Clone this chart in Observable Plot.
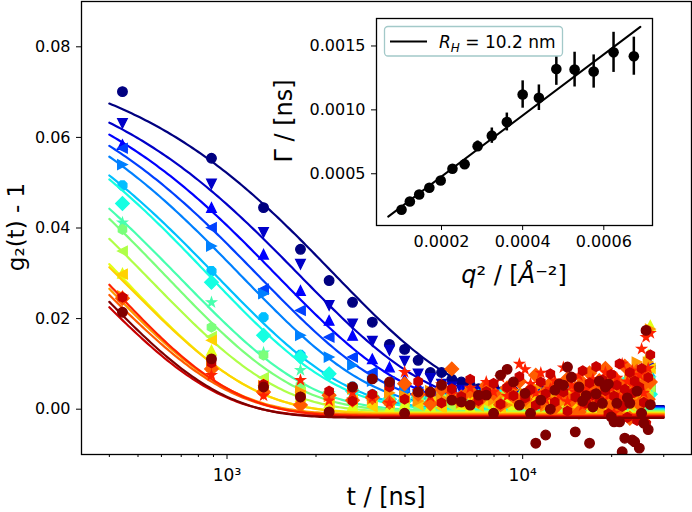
<!DOCTYPE html>
<html><head><meta charset="utf-8">
<script src="https://cdn.jsdelivr.net/npm/d3@7"></script>
<script src="https://cdn.jsdelivr.net/npm/@observablehq/plot@0.6"></script>
<style>
body{margin:0;background:#fff;}
#wrap{position:relative;width:692px;height:512px;}
#wrap svg{position:absolute;left:0;top:0;}
</style></head><body><div id="wrap"></div>
<script>
// ---------- DATA ----------
const lagStep = 443;               // ns between successive lag times
const lagCount = 61;
// g2(t)-1 per q, in units of 1e-4
const s0 = [701,554,445,353,284,236,192,143,132,108,81,81,66,60,53,45,42,49,38,35,40,33,30,36,24,41,28,22,33,47,19,27,38,25,31,16,44,29,21,35,26,52,18,30,39,12,45,27,33,8,56,24,37,15,49,22,60,10,43,31,93];
const s1 = [631,497,390,320,229,188,150,130,106,78,68,55,49,42,36,40,31,28,35,26,30,22,27,33,19,38,25,30,17,41,28,23,35,14,32,26,45,20,29,37,18,40,25,12,48,31,22,55,9,36,27,61,15,42,30,4,51,24,70,38,85];
const s2 = [584,445,342,262,196,163,111,93,66,52,44,35,30,38,26,33,24,29,21,36,27,25,31,18,36,27,22,40,16,29,34,20,43,25,13,37,28,46,19,32,24,50,14,35,41,7,29,58,20,44,11,33,63,26,47,3,39,66,21,55,101];
const s3 = [576,401,265,218,159,115,82,60,45,38,30,26,35,24,29,20,31,26,18,33,22,28,20,34,25,15,38,27,30,12,41,23,35,26,18,44,21,31,39,14,33,47,10,28,53,22,37,5,45,30,59,17,40,25,64,8,36,52,19,71,45];
const s4 = [540,360,255,163,115,97,62,48,40,33,29,25,31,22,27,19,34,25,21,30,17,26,28,19,33,24,14,37,26,21,40,29,16,35,23,43,27,11,32,38,20,46,29,13,51,34,24,57,6,39,31,62,18,43,9,55,28,67,35,14,58];
const s5 = [494,305,203,120,78,50,33,28,24,30,21,26,18,29,23,16,27,20,32,15,24,19,25,13,31,22,36,17,27,9,33,24,40,15,28,20,11,37,25,30,16,42,27,5,48,33,21,56,12,38,29,63,2,45,34,18,60,26,9,52,70];
const s6 = [454,280,163,115,78,40,28,22,18,26,15,23,12,25,19,28,14,21,30,11,24,17,22,10,29,18,33,14,25,8,36,20,27,12,39,23,16,31,6,28,19,44,10,35,25,51,3,40,30,57,14,46,22,0,53,37,12,64,28,48,33];
const s7 = [412,236,125,86,35,22,15,20,13,24,17,10,21,14,26,9,19,28,12,23,16,30,11,25,18,7,32,20,14,37,24,3,29,17,40,10,26,21,34,13,27,5,43,19,36,49,11,30,58,23,1,47,34,16,62,26,41,8,55,31,68];
const s8 = [397,181,119,52,30,18,9,21,14,6,19,25,11,17,8,23,13,27,5,20,15,24,9,28,16,4,22,33,12,18,38,7,26,15,31,2,21,35,11,24,40,14,29,6,45,22,33,-3,50,17,38,27,60,9,42,20,-6,53,31,74,60];
const s9 = [349,160,70,38,22,14,25,9,18,27,12,20,6,24,15,29,10,19,31,8,22,13,26,4,20,33,12,28,17,1,35,23,10,39,19,27,6,32,14,42,8,30,47,16,37,-4,25,54,12,41,31,65,-8,36,22,57,15,45,80,28,50];
const s10 = [300,130,60,28,14,8,19,3,12,22,7,16,25,10,4,18,29,13,6,21,9,27,15,2,23,34,11,19,-2,30,16,8,37,24,4,28,13,41,20,9,33,18,-6,44,26,11,52,35,3,47,21,-10,58,30,14,66,40,-12,49,120,185];
const s11 = [298,152,52,30,12,20,5,14,24,9,17,2,19,11,26,7,15,22,3,28,12,18,6,25,14,32,9,21,-1,27,17,36,5,23,12,40,18,2,31,15,38,7,24,50,13,33,-5,43,20,56,28,8,62,17,39,-9,51,26,70,11,90];
const s12 = [250,95,52,40,28,45,22,36,30,18,41,25,33,14,38,27,46,20,31,9,43,24,35,12,48,29,6,39,22,55,16,33,-2,44,27,60,10,37,19,50,31,-5,42,68,24,13,57,36,-9,47,28,75,17,40,104,21,63,-14,45,104,177];
const s13 = [245,89,38,9,31,20,26,15,56,33,12,44,89,27,40,18,52,35,10,47,29,61,22,43,75,14,38,56,3,49,31,67,20,45,-6,58,36,80,12,41,63,25,90,47,8,70,-12,55,34,95,18,-20,62,40,84,11,50,-28,73,22,60];
const s14 = [248,75,30,64,19,37,25,14,82,40,28,55,33,18,47,24,60,38,70,29,52,100,88,56,36,80,21,45,63,30,92,17,52,38,74,8,44,27,66,35,12,58,81,30,47,-8,69,24,100,39,61,16,85,52,-15,76,133,36,159,90,168];
const s15 = [247,102,55,27,40,18,33,49,22,61,36,14,45,28,66,19,39,57,11,48,30,72,25,43,9,60,34,78,16,51,38,-4,69,27,46,85,13,58,32,94,20,65,41,-10,77,29,53,100,6,44,-18,81,35,62,-25,49,90,15,-32,70,120];
const s16 = [214,111,49,27,-6,49,67,60,-9,38,38,53,20,16,9,31,31,-9,75,88,60,9,35,-9,-75,20,-57,0,42,56,53,93,71,-50,49,18,30,-75,5,34,62,13,49,56,-17,-28,13,-28,-94,-64,25,13,-68,-72,40,-86,-9,-31,174,-45,10];
const seriesValues = [s0,s1,s2,s3,s4,s5,s6,s7,s8,s9,s10,s11,s12,s13,s14,s15,s16];

// inset: decay rate vs q^2
const qSquared  = [0.0001015,0.000122,0.000145,0.00017,0.000198,0.000227,0.000257,0.000289,0.000324,0.000361,0.0004,0.00044,0.000483,0.000528,0.000575,0.000624,0.000674];
const gammaRate = [0.000218,0.000283,0.000338,0.00039,0.000447,0.000539,0.000575,0.000716,0.000798,0.000905,0.00112,0.001095,0.00132,0.001315,0.0013,0.00145,0.00142];
const gammaErr  = [0.00001,0.00001,0.000012,0.000015,0.00002,0.00002,0.000025,0.00004,0.00006,0.00007,0.000107,0.0001,0.000128,0.000136,0.00013,0.000157,0.000149];
const fitSlope = 2.39;                 // Γ = D q²
const fitQRange = [0.0000687, 0.00069];
const legendLabel = "R_H = 10.2 nm";

// fit parameters of main curves: g2-1 = A exp(-2Γt) + c
const fitAmplitude = [0.0795,0.0787,0.0789,0.079,0.0794,0.0794,0.0805,0.079,0.0803,0.0788,0.0804,0.0774,0.0796,0.0759,0.082,0.0772,0.0797];
const fitBaseline  = [0.0007,0.0005,0.0004,0.0003,0.0002,0,-0.0001,-0.0003,-0.0004,-0.0006,-0.0008,-0.0009,-0.0011,-0.0013,-0.0015,-0.0017,-0.0019];
const fitTRange = [400, 30000];

// ticks
const yTicks = [0, 0.02, 0.04, 0.06, 0.08];
const xMajor = [1000, 10000];
const xMajorLabels = ["10³", "10⁴"];
const xMinor = [400,500,600,700,800,900,2000,3000,4000,5000,6000,7000,8000,9000,20000,30000];
const insetXTicks = [0.0002, 0.0004, 0.0006];
const insetYTicks = [0.0005, 0.0010, 0.0015];

// ---------- STYLE ----------
const jetColors = ["#000080","#0000c8","#0000ff","#0040ff","#0080ff","#00bfff","#15ffe2","#48ffaf","#7bff7b","#afff48","#e2ff15","#ffd200","#ff9700","#ff5c00","#ff2100","#c80000","#800000"];
const markerKeys = ["o","v","^","<",">","8","D","*","h","<","^","<",">","D","*","h","o"];

function polySymbol(n, rot, scale) {
  return {draw(ctx, size) {
    const R = Math.sqrt(size / Math.PI) * scale;
    for (let j = 0; j < n; ++j) {
      const a = rot + 2 * Math.PI * j / n;
      const x = R * Math.sin(a), y = -R * Math.cos(a);
      if (j) ctx.lineTo(x, y); else ctx.moveTo(x, y);
    }
    ctx.closePath();
  }};
}
function pathSymbol(pts) {
  return {draw(ctx, size) {
    const R = Math.sqrt(size / Math.PI);
    pts.forEach(([x, y], j) => j ? ctx.lineTo(x * R, y * R) : ctx.moveTo(x * R, y * R));
    ctx.closePath();
  }};
}
const starPts = d3.range(10).map(j => { const a = Math.PI * j / 5, rr = j % 2 ? 0.382 : 1; return [rr * Math.sin(a), -rr * Math.cos(a)]; });
const symbols = {
  "o": "circle",
  "v": pathSymbol([[0,1],[-1,-1],[1,-1]]),
  "^": pathSymbol([[0,-1],[-1,1],[1,1]]),
  "<": pathSymbol([[-1,0],[1,-1],[1,1]]),
  ">": pathSymbol([[1,0],[-1,-1],[-1,1]]),
  "8": polySymbol(8, Math.PI / 8, 1),
  "D": polySymbol(4, 0, Math.SQRT2),
  "h": polySymbol(6, 0, 1),
  "*": pathSymbol(starPts)
};

// ---------- MAIN PLOT ----------
const lagTimes = d3.range(1, lagCount + 1).map(k => k * lagStep);
const fitT = d3.range(201).map(j => fitTRange[0] * Math.pow(fitTRange[1] / fitTRange[0], j / 200));
const marks = [];
seriesValues.forEach((vals, i) => {
  const pts = vals.map((v, k) => ({t: lagTimes[k], v: v * 1e-4}));
  marks.push(Plot.dot(pts, {x: "t", y: "v", r: 4.8, symbol: symbols[markerKeys[i]], fill: jetColors[i], stroke: jetColors[i], strokeWidth: 1.3, clip: true}));
  const curve = fitT.map(t => ({t, v: fitAmplitude[i] * Math.exp(-2 * gammaRate[i] * t) + fitBaseline[i]}));
  marks.push(Plot.line(curve, {x: "t", y: "v", stroke: jetColors[i], strokeWidth: 2.2, clip: true}));
});
const xLabelMap = new Map(xMajor.map((d, i) => [d, xMajorLabels[i]]));
const font = "DejaVu Sans, sans-serif";

const main = Plot.plot({
  width: 692, height: 512,
  marginLeft: 81, marginRight: 1, marginTop: 1, marginBottom: 58,
  x: {type: "log", domain: [322, 37240]},
  y: {domain: [-0.01, 0.09]},
  style: {fontFamily: font, fontSize: "16px", background: "white", color: "black"},
  marks: [
    ...marks,
    Plot.axisY(yTicks, {tickSize: 5, tickPadding: 6, tickFormat: d3.format(".2f"), fontSize: 16, label: null}),
    Plot.axisX(xMajor, {tickSize: 5, tickPadding: 9, tickFormat: d => xLabelMap.get(d), fontSize: 17, label: null}),
    Plot.axisX(xMinor, {tickSize: 3, tickFormat: () => "", label: null}),
    Plot.frame({stroke: "black", strokeWidth: 1.3})
  ]
});
const ms = d3.select(main);
ms.append("text").attr("transform", "translate(24,227) rotate(-90)").attr("text-anchor", "middle")
  .style("font-size", "23px").style("font-family", font).attr("fill", "black").text("g₂(t) - 1");
ms.append("text").attr("x", 386).attr("y", 505).attr("text-anchor", "middle")
  .style("font-size", "24px").style("font-family", font).attr("fill", "black").text("t / [ns]");

// ---------- INSET ----------
const gpts = qSquared.map((q, i) => ({q, g: gammaRate[i], e: gammaErr[i]}));
const fitLine = fitQRange.map(q => ({q, g: fitSlope * q}));
const inset = Plot.plot({
  width: 692, height: 512,
  marginLeft: 376, marginRight: 40, marginTop: 18, marginBottom: 287,
  x: {domain: [0.0000398, 0.00072]},
  y: {domain: [0.000095, 0.001715]},
  style: {fontFamily: font, fontSize: "16px", background: "transparent", color: "black"},
  marks: [
    Plot.frame({fill: "white", stroke: "none"}),
    Plot.line(fitLine, {x: "q", y: "g", stroke: "black", strokeWidth: 2}),
    Plot.ruleX(gpts, {x: "q", y1: d => d.g - d.e, y2: d => d.g + d.e, stroke: "black", strokeWidth: 2.5}),
    Plot.dot(gpts, {x: "q", y: "g", r: 5.3, fill: "black"}),
    Plot.axisY(insetYTicks, {tickSize: 5, tickPadding: 6, tickFormat: d3.format(".4f"), fontSize: 16, label: null}),
    Plot.axisX(insetXTicks, {tickSize: 5, tickPadding: 5, tickFormat: d3.format(".4f"), fontSize: 16, label: null}),
    Plot.frame({stroke: "black", strokeWidth: 1.3})
  ]
});
const is = d3.select(inset);
is.append("text").attr("transform", "translate(292,121) rotate(-90)").attr("text-anchor", "middle")
  .style("font-size", "24px").style("font-family", font).attr("fill", "black").text("Γ / [ns]");
const xl = is.append("text").attr("x", 514).attr("y", 283).attr("text-anchor", "middle")
  .style("font-size", "24px").style("font-family", font).attr("fill", "black");
xl.append("tspan").style("font-style", "italic").text("q");
xl.append("tspan").text("² / [");
xl.append("tspan").style("font-style", "italic").text("Å");
xl.append("tspan").text("⁻²]");
// legend
const lg = is.append("g");
lg.append("rect").attr("x", 384.5).attr("y", 26.5).attr("width", 178).attr("height", 29.5).attr("rx", 3.5)
  .attr("fill", "white").attr("stroke", "#a3c9c9").attr("stroke-width", 1.3);
lg.append("line").attr("x1", 390).attr("x2", 427).attr("y1", 41.5).attr("y2", 41.5).attr("stroke", "black").attr("stroke-width", 2);
const [lhs, rhs] = legendLabel.split(" = ");
const lt = lg.append("text").attr("x", 439).attr("y", 47.5).attr("text-anchor", "start")
  .style("font-size", "17px").style("font-family", font).attr("fill", "black");
lt.append("tspan").style("font-style", "italic").text(lhs.split("_")[0]);
lt.append("tspan").style("font-style", "italic").style("font-size", "12px").attr("dy", 4).text(lhs.split("_")[1]);
lt.append("tspan").attr("dy", -4).text(" = " + rhs);

document.getElementById("wrap").append(main, inset);
</script></body></html>
